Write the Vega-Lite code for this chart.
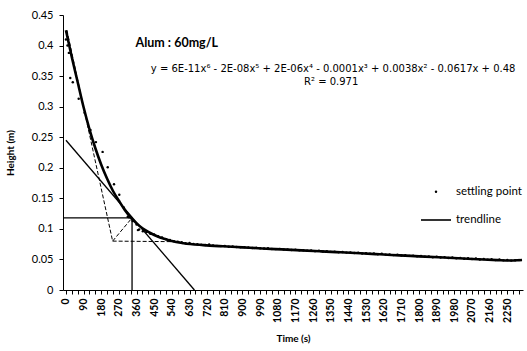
{
  "$schema": "https://vega.github.io/schema/vega-lite/v6.json",
  "autosize": {"type": "none"},
  "padding": {"left": 63, "top": 15, "right": 4, "bottom": 61},
  "width": 460,
  "height": 275,
  "background": "white",
  "config": {
    "view": {"stroke": null},
    "font": "Lato",
    "axis": {"grid": false, "domainColor": "black", "tickColor": "black", "labelColor": "black", "titleColor": "black", "domainWidth": 1, "tickWidth": 1}
  },
  "datasets": {
    "points": [
      {"t":0,"h":0.41},{"t":8,"h":0.40},{"t":15,"h":0.388},{"t":22,"h":0.347},{"t":35,"h":0.34},{"t":65,"h":0.313},{"t":95,"h":0.29},{"t":125,"h":0.262},{"t":153,"h":0.242},{"t":187,"h":0.226},{"t":213,"h":0.201},{"t":245,"h":0.173},{"t":272,"h":0.156},{"t":295,"h":0.135},{"t":315,"h":0.12},{"t":322,"h":0.119},{"t":340,"h":0.113},{"t":360,"h":0.107},{"t":367,"h":0.098},{"t":373,"h":0.099},{"t":392,"h":0.096},
      {"t":410,"h":0.095},{"t":430,"h":0.092},{"t":450,"h":0.091},{"t":470,"h":0.088},{"t":490,"h":0.086},{"t":510,"h":0.083},{"t":530,"h":0.082},{"t":550,"h":0.080},{"t":570,"h":0.079},{"t":590,"h":0.078},
      {"t":610,"h":0.0765},{"t":630,"h":0.0768},{"t":650,"h":0.0755},{"t":670,"h":0.0748},{"t":690,"h":0.0742},{"t":710,"h":0.0738},{"t":730,"h":0.0745},{"t":750,"h":0.0728},{"t":770,"h":0.0722},{"t":790,"h":0.0718},
      {"t":810,"h":0.0721},{"t":830,"h":0.0709},{"t":850,"h":0.0712},{"t":870,"h":0.0703},{"t":890,"h":0.0698},{"t":910,"h":0.0702},{"t":930,"h":0.0694},{"t":950,"h":0.0688},{"t":970,"h":0.0691},{"t":990,"h":0.0682},
      {"t":1010,"h":0.0679},{"t":1030,"h":0.0683},{"t":1050,"h":0.0672},{"t":1070,"h":0.0669},{"t":1090,"h":0.0673},{"t":1110,"h":0.0662},{"t":1130,"h":0.0665},{"t":1150,"h":0.0655},{"t":1170,"h":0.0658},{"t":1190,"h":0.0649},
      {"t":1210,"h":0.0652},{"t":1230,"h":0.0643},{"t":1250,"h":0.0645},{"t":1270,"h":0.0636},{"t":1290,"h":0.0641},{"t":1310,"h":0.0629},{"t":1330,"h":0.0633},{"t":1350,"h":0.0624},{"t":1370,"h":0.0627},{"t":1390,"h":0.0618},
      {"t":1410,"h":0.0621},{"t":1430,"h":0.0612},{"t":1450,"h":0.0616},{"t":1470,"h":0.0605},{"t":1490,"h":0.0611},{"t":1510,"h":0.0598},{"t":1530,"h":0.0603},{"t":1550,"h":0.0594},{"t":1570,"h":0.0597},{"t":1590,"h":0.0585},
      {"t":1610,"h":0.0592},{"t":1630,"h":0.0579},{"t":1650,"h":0.0583},{"t":1670,"h":0.0571},{"t":1690,"h":0.0577},{"t":1710,"h":0.0563},{"t":1730,"h":0.0569},{"t":1750,"h":0.0558},{"t":1770,"h":0.0562},{"t":1790,"h":0.0551},
      {"t":1810,"h":0.0556},{"t":1830,"h":0.0544},{"t":1850,"h":0.0549},{"t":1870,"h":0.0537},{"t":1890,"h":0.0543},{"t":1910,"h":0.0531},{"t":1930,"h":0.0538},{"t":1950,"h":0.0524},{"t":1970,"h":0.0532},{"t":1990,"h":0.0518},
      {"t":2010,"h":0.0526},{"t":2030,"h":0.0511},{"t":2050,"h":0.0519},{"t":2070,"h":0.0506},{"t":2090,"h":0.0514},{"t":2110,"h":0.0499},{"t":2130,"h":0.0508},{"t":2150,"h":0.0494},{"t":2170,"h":0.0503},{"t":2190,"h":0.0489},
      {"t":2210,"h":0.0498},{"t":2230,"h":0.0485},{"t":2250,"h":0.0492},{"t":2270,"h":0.0481},{"t":2290,"h":0.0487},{"t":2310,"h":0.0493}
    ],
    "trend": [
      {"t":0,"h":0.425},{"t":30,"h":0.381},{"t":60,"h":0.34},{"t":90,"h":0.299},{"t":120,"h":0.263},{"t":150,"h":0.232},{"t":180,"h":0.205},{"t":210,"h":0.182},{"t":240,"h":0.162},{"t":270,"h":0.146},{"t":300,"h":0.131},{"t":335,"h":0.117},{"t":360,"h":0.109},{"t":390,"h":0.101},{"t":420,"h":0.095},{"t":450,"h":0.09},{"t":480,"h":0.086},{"t":510,"h":0.083},{"t":540,"h":0.080},{"t":600,"h":0.0765},{"t":700,"h":0.0735},{"t":800,"h":0.0715},{"t":900,"h":0.0698},{"t":1000,"h":0.068},{"t":1100,"h":0.0664},{"t":1200,"h":0.0648},{"t":1300,"h":0.0632},{"t":1400,"h":0.0617},{"t":1500,"h":0.0601},{"t":1600,"h":0.0584},{"t":1700,"h":0.0567},{"t":1800,"h":0.0551},{"t":1900,"h":0.0535},{"t":2000,"h":0.0519},{"t":2100,"h":0.0503},{"t":2200,"h":0.0489},{"t":2260,"h":0.0483},{"t":2300,"h":0.0486},{"t":2325,"h":0.0492}
    ],
    "guides": [
      {"g":"tangent","t":0,"h":0.245},{"g":"tangent","t":655,"h":0},
      {"g":"hc","t":-15,"h":0.118},{"g":"hc","t":337,"h":0.118},
      {"g":"tc","t":337,"h":0.118},{"g":"tc","t":337,"h":0}
    ],
    "dashed": [
      {"g":"initial","t":5,"h":0.425},{"g":"initial","t":238,"h":0.08},
      {"g":"bisector","t":238,"h":0.08},{"g":"bisector","t":337,"h":0.118},
      {"g":"compression","t":238,"h":0.08},{"g":"compression","t":580,"h":0.079}
    ]
  },
  "encoding": {
    "x": {"type": "quantitative", "scale": {"domain": [-15, 2330], "nice": false, "zero": false},
      "axis": {"title": "Time (s)", "titleFont": "Lato", "titleFontSize": 10, "titleFontWeight": "bold", "titlePadding": 11,
        "values": [0,30,60,90,120,150,180,210,240,270,300,330,360,390,420,450,480,510,540,570,600,630,660,690,720,750,780,810,840,870,900,930,960,990,1020,1050,1080,1110,1140,1170,1200,1230,1260,1290,1320,1350,1380,1410,1440,1470,1500,1530,1560,1590,1620,1650,1680,1710,1740,1770,1800,1830,1860,1890,1920,1950,1980,2010,2040,2070,2100,2130,2160,2190,2220,2250,2280,2310],
        "labelExpr": "datum.value % 90 === 0 ? datum.value : ''",
        "labelAngle": 270, "labelAlign": "right", "labelBaseline": "middle", "labelFontSize": 10.5, "labelFontWeight": "bold", "labelPadding": 4, "tickSize": 4, "labelOverlap": false}},
    "y": {"type": "quantitative", "scale": {"domain": [0, 0.45], "nice": false},
      "axis": {"title": "Height (m)", "titleFont": "Lato", "titleFontSize": 10, "titleFontWeight": "bold", "titlePadding": 16,
        "values": [0,0.05,0.1,0.15,0.2,0.25,0.3,0.35,0.4,0.45], "format": ".2~f", "labelFontSize": 11, "tickSize": 4, "labelPadding": 6}}
  },
  "layer": [
    {"data": {"name": "guides"}, "mark": {"type": "line", "color": "black", "strokeWidth": 1.3},
      "encoding": {"x": {"field": "t"}, "y": {"field": "h"}, "detail": {"field": "g"}}},
    {"data": {"name": "dashed"}, "mark": {"type": "line", "color": "black", "strokeWidth": 1, "strokeDash": [4, 2]},
      "encoding": {"x": {"field": "t"}, "y": {"field": "h"}, "detail": {"field": "g"}}},
    {"data": {"name": "trend"}, "mark": {"type": "line", "color": "black", "strokeWidth": 2.6, "interpolate": "monotone"},
      "encoding": {"x": {"field": "t"}, "y": {"field": "h"}}},
    {"data": {"name": "points"}, "transform": [{"calculate": "'settling point'", "as": "series"}],
      "mark": {"type": "point", "filled": true, "color": "black", "opacity": 1, "stroke": "black"},
      "encoding": {"x": {"field": "t"}, "y": {"field": "h"},
        "shape": {"field": "series", "type": "nominal",
          "scale": {"domain": ["settling point", "trendline"], "range": ["circle", "stroke"]},
          "legend": {"title": null, "orient": "none", "legendX": 357, "legendY": 171, "labelFontSize": 11.5, "labelFont": "Lato", "labelColor": "black", "labelOffset": 4, "rowPadding": 6, "symbolFillColor": "black", "symbolStrokeColor": "black", "symbolOpacity": 1}},
        "size": {"field": "series", "type": "nominal",
          "scale": {"domain": ["settling point", "trendline"], "range": [6, 900]}},
        "strokeWidth": {"field": "series", "type": "nominal",
          "scale": {"domain": ["settling point", "trendline"], "range": [0, 1.6]}}}},
    {"data": {"values": [{}]}, "mark": {"type": "text", "font": "Lato", "fontSize": 12.5, "fontWeight": "bold", "align": "center", "color": "black"},
      "encoding": {"x": {"datum": 565}, "y": {"datum": 0.405}, "text": {"value": "Alum : 60mg/L"}}},
    {"data": {"values": [{}]}, "mark": {"type": "text", "font": "DejaVu Sans", "fontSize": 10, "align": "center", "color": "black"},
      "encoding": {"x": {"datum": 1362}, "y": {"datum": 0.362}, "text": {"value": "y = 6E-11x⁶ - 2E-08x⁵ + 2E-06x⁴ - 0.0001x³ + 0.0038x² - 0.0617x + 0.48"}}},
    {"data": {"values": [{}]}, "mark": {"type": "text", "font": "DejaVu Sans", "fontSize": 10, "align": "center", "color": "black"},
      "encoding": {"x": {"datum": 1352}, "y": {"datum": 0.34}, "text": {"value": "R² = 0.971"}}}
  ]
}
